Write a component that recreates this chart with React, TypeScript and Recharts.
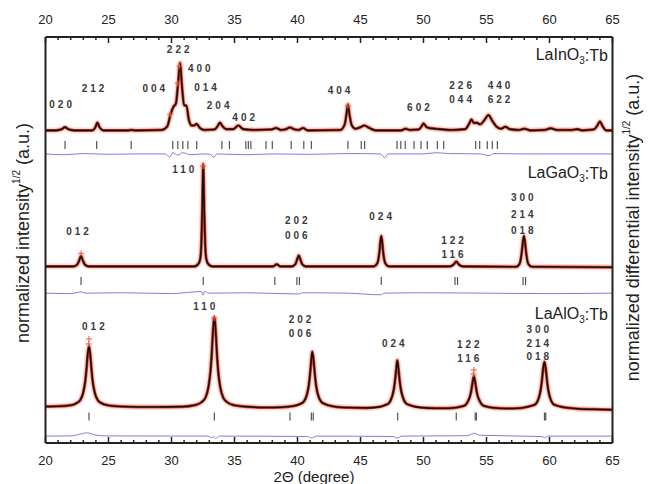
import React from 'react';
import { ComposedChart, Line, Scatter, XAxis, YAxis, Label } from 'recharts';

type P = [number, number];

const majorTicks = [20, 25, 30, 35, 40, 45, 50, 55, 60, 65];
const axisTicks = Array.from({ length: 46 }, (_, i) => 20 + i);

// LaInO3:Tb (top pattern)
const inProfile: P[] = [
  [20, 77.0], [20.8, 77.0], [21.3, 77.3], [21.55, 77.8], [21.8, 77.3], [22.3, 77.0],
  [23.7, 77.0], [23.95, 77.7], [24.12, 78.9], [24.3, 77.7], [24.6, 77.0],
  [26.5, 77.0], [26.8, 77.1], [27.2, 77.0],
  [29.2, 77.1], [29.65, 77.9], [29.95, 81.2], [30.15, 82.8], [30.35, 83.6], [30.52, 88.5], [30.68, 93.6],
  [30.84, 87.5], [31.0, 83.2], [31.18, 83.1], [31.38, 79.6], [31.6, 78.2], [31.8, 78.2], [32.0, 78.6],
  [32.25, 77.6], [32.6, 77.1],
  [33.4, 77.2], [33.65, 78.0], [33.85, 78.9], [34.05, 78.0], [34.35, 77.3],
  [34.9, 77.3], [35.3, 78.2], [35.7, 77.3],
  [36.5, 77.1], [37.9, 77.2], [38.3, 77.6], [38.7, 77.1], [39.0, 77.2], [39.4, 77.7], [39.8, 77.2],
  [40.1, 77.1], [40.45, 77.6], [40.8, 77.0],
  [43.4, 77.1], [43.75, 78.5], [43.9, 81.3], [44.0, 83.4], [44.12, 81.0], [44.3, 78.3], [44.6, 77.4],
  [45.0, 77.8], [45.3, 78.2], [45.7, 77.6], [46.2, 77.0],
  [48.2, 77.0], [48.6, 77.4], [48.9, 77.1], [49.6, 77.2], [49.85, 78.0], [50.0, 78.7], [50.25, 77.8],
  [50.6, 77.5], [51.3, 77.3], [52.3, 77.1],
  [53.3, 77.3], [53.65, 78.8], [53.8, 79.7], [54.0, 78.8], [54.2, 78.9], [54.5, 78.5], [54.85, 79.6],
  [55.15, 80.8], [55.45, 79.4], [55.8, 77.9], [56.15, 77.4], [56.5, 77.9], [56.85, 77.3],
  [57.6, 77.1], [58.0, 77.4], [58.5, 77.0], [59.6, 77.1], [60.1, 77.5], [60.6, 77.1],
  [61.8, 77.1], [62.2, 77.3], [62.6, 77.0],
  [63.5, 77.2], [63.8, 78.2], [64.0, 79.2], [64.2, 78.1], [64.5, 77.0], [65, 77.0],
];
const inObs: P[] = [[30.64, 92.8], [30.5, 88.6], [29.9, 81.0], [44.0, 83.0]];
const inDiff: P[] = [
  [20, 71.2], [21.5, 71.0], [23, 71.3], [25, 71.1], [27, 71.2], [29.5, 71.2], [29.85, 70.4], [30.1, 71.5],
  [30.5, 70.9], [30.9, 71.5], [31.5, 71.0], [32.5, 71.2], [33.1, 71.1], [33.35, 70.3], [33.6, 71.2],
  [36, 71.0], [38, 71.2], [41, 71.1], [44, 71.3], [46.6, 71.2], [46.9, 70.3], [47.2, 71.2], [50, 71.2],
  [51, 71.5], [52, 71.3], [54.5, 71.2], [55.2, 70.8], [55.6, 71.3], [58, 71.2], [61, 71.2], [65, 71.2],
];
const inBragg = [
  21.55, 24.06, 26.8, 30.1, 30.5, 30.9, 31.3, 32.0, 34.0, 34.6, 35.9, 36.1, 36.3, 37.5, 38.0, 39.5,
  40.5, 41.1, 44.0, 45.06, 45.33, 47.9, 48.2, 48.55, 49.25, 49.8, 50.3, 51.1, 51.6, 54.14, 54.46,
  55.06, 55.46, 55.86,
];
const inHkl = [
  { x: 21.2, y: 83.4, t: '020' }, { x: 23.77, y: 87.2, t: '212' }, { x: 28.59, y: 87.2, t: '004' },
  { x: 30.53, y: 96.8, t: '222' }, { x: 32.2, y: 92.3, t: '400' }, { x: 32.7, y: 87.6, t: '014' },
  { x: 33.7, y: 83.2, t: '204' }, { x: 35.73, y: 80.1, t: '402' }, { x: 43.3, y: 86.7, t: '404' },
  { x: 49.6, y: 82.7, t: '602' }, { x: 52.95, y: 88.0, t: '226' }, { x: 52.95, y: 84.6, t: '044' },
  { x: 56.0, y: 88.0, t: '440' }, { x: 56.0, y: 84.6, t: '622' },
];

// LaGaO3:Tb (middle pattern)
const gaProfile: P[] = [
  [20, 43.5], [22.2, 43.5], [22.5, 43.9], [22.68, 45.0], [22.82, 46.1], [22.96, 45.0], [23.14, 43.9], [23.45, 43.5],
  [31.8, 43.5], [32.1, 44.0], [32.27, 45.2], [32.37, 49.0], [32.44, 57.0], [32.48, 64.0], [32.52, 68.7],
  [32.56, 64.0], [32.6, 57.0], [32.67, 49.0], [32.77, 45.2], [32.94, 44.0], [33.25, 43.5],
  [38.05, 43.5], [38.35, 44.0], [38.65, 43.5],
  [39.55, 43.5], [39.82, 44.0], [39.98, 45.3], [40.1, 46.2], [40.22, 45.3], [40.38, 44.0], [40.65, 43.5],
  [46.05, 43.5], [46.32, 44.2], [46.5, 47.0], [46.58, 49.6], [46.65, 51.0], [46.72, 49.6], [46.8, 47.0],
  [46.98, 44.2], [47.25, 43.5],
  [52.1, 43.5], [52.4, 44.0], [52.6, 44.7], [52.8, 44.0], [53.1, 43.5],
  [57.35, 43.4], [57.62, 44.1], [57.8, 47.0], [57.89, 49.6], [57.97, 51.0], [58.05, 49.6], [58.14, 47.0],
  [58.32, 44.1], [58.6, 43.4], [65, 43.3],
];
const gaObs: P[] = [[22.82, 46.7], [32.52, 68.2]];
const gaDiff: P[] = [
  [20, 36.9], [22, 36.8], [22.82, 37.2], [23.2, 36.9], [26, 37.0], [30, 36.8], [32.35, 37.3], [32.5, 36.4],
  [32.65, 37.4], [32.9, 36.9], [36, 37.0], [40.1, 36.7], [40.4, 37.0], [44, 36.9], [46.6, 36.5], [46.9, 36.9],
  [50, 37.0], [55, 36.9], [60, 36.8], [65, 36.9],
];
const gaBragg = [22.82, 32.52, 38.2, 39.95, 40.15, 46.65, 52.5, 52.7, 57.9, 58.1];
const gaHkl = [
  { x: 30.94, y: 67.4, t: '110' }, { x: 22.54, y: 52.2, t: '012' },
  { x: 39.9, y: 54.7, t: '202' }, { x: 39.9, y: 51.2, t: '006' },
  { x: 46.6, y: 55.7, t: '024' },
  { x: 52.3, y: 49.8, t: '122' }, { x: 52.3, y: 46.4, t: '116' },
  { x: 57.84, y: 60.5, t: '300' }, { x: 57.84, y: 56.3, t: '214' }, { x: 57.84, y: 52.3, t: '018' },
];

// LaAlO3:Tb (bottom pattern)
const alProfile: P[] = [
  [20, 9.0], [21.0, 9.05], [22.0, 9.3], [22.45, 9.8], [22.75, 10.55], [23.0, 12.5], [23.15, 15.1], [23.25, 18.1],
  [23.35, 21.8], [23.45, 23.9], [23.55, 21.8], [23.65, 18.1], [23.75, 15.1], [23.9, 12.5], [24.15, 10.55],
  [24.45, 9.8], [24.95, 9.3], [26.0, 9.0], [28.5, 8.85],
  [30.9, 8.95], [31.9, 9.35], [32.4, 10.1], [32.7, 11.2], [32.95, 14.1], [33.1, 17.9], [33.2, 22.3], [33.3, 27.9],
  [33.4, 31.0], [33.5, 27.9], [33.6, 22.3], [33.7, 17.9], [33.85, 14.1], [34.1, 11.2], [34.4, 10.1],
  [34.9, 9.35], [35.9, 8.95], [37.5, 8.75],
  [38.7, 8.8], [39.7, 9.1], [40.2, 9.6], [40.5, 10.2], [40.75, 11.95], [40.9, 14.3], [41.0, 17.1], [41.1, 20.6],
  [41.17, 22.5], [41.27, 20.6], [41.37, 17.1], [41.47, 14.3], [41.62, 11.95], [41.87, 10.2], [42.17, 9.6],
  [42.67, 9.1], [43.7, 8.75],
  [45.5, 8.65], [46.5, 8.9], [46.95, 9.35], [47.25, 9.8], [47.5, 11.4], [47.65, 13.3], [47.75, 15.6],
  [47.85, 18.6], [47.92, 20.4], [48.0, 18.6], [48.1, 15.6], [48.2, 13.3], [48.35, 11.4], [48.6, 9.8],
  [48.9, 9.35], [49.4, 8.9], [50.4, 8.6],
  [51.5, 8.55], [52.5, 8.7], [53.0, 9.0], [53.3, 9.3], [53.55, 10.4], [53.7, 11.6], [53.8, 13.0], [53.9, 15.0],
  [54.0, 16.5], [54.1, 15.0], [54.2, 13.0], [54.3, 11.6], [54.45, 10.4], [54.7, 9.3], [55.0, 9.0], [55.5, 8.7],
  [56.5, 8.5],
  [57.5, 8.55], [58.1, 8.8], [58.6, 9.2], [58.9, 9.6], [59.15, 11.1], [59.3, 13.1], [59.4, 15.4], [59.5, 18.4],
  [59.6, 20.0], [59.7, 18.4], [59.8, 15.4], [59.9, 13.1], [60.05, 11.1], [60.3, 9.6], [60.6, 9.2], [61.1, 8.8],
  [62.0, 8.5], [63.5, 8.3], [65, 8.2],
];
const alObs: P[] = [[23.45, 25.6], [23.42, 24.4], [33.4, 30.8], [54.0, 18.0], [53.96, 17.0]];
const alDiff: P[] = [
  [20, 1.7], [22.0, 1.75], [22.8, 2.2], [23.2, 2.5], [23.5, 2.4], [23.9, 2.0], [24.8, 1.75], [32.9, 1.7],
  [33.2, 1.3], [33.35, 1.6], [33.5, 1.1], [33.8, 1.7], [40.8, 1.6], [41.1, 1.2], [41.5, 1.7], [47.6, 1.6],
  [47.9, 1.2], [48.3, 1.7], [53.5, 1.8], [54.0, 2.4], [54.5, 1.9], [59.4, 1.6], [59.6, 1.3], [59.9, 1.7], [65, 1.7],
];
const alBragg = [23.45, 33.4, 39.4, 41.1, 41.25, 47.95, 52.6, 54.1, 54.2, 59.6, 59.7];
const alHkl = [
  { x: 23.8, y: 28.6, t: '012' }, { x: 32.6, y: 33.6, t: '110' },
  { x: 40.2, y: 30.3, t: '202' }, { x: 40.2, y: 27.0, t: '006' },
  { x: 47.6, y: 24.6, t: '024' },
  { x: 53.55, y: 24.3, t: '122' }, { x: 53.55, y: 20.9, t: '116' },
  { x: 59.07, y: 28.0, t: '300' }, { x: 59.07, y: 24.6, t: '214' }, { x: 59.07, y: 21.3, t: '018' },
];

const braggLevel = { in: 73.4, ga: 39.9, al: 6.5 };
const phaseNames = [
  { x: 64.64, y: 95.6, name: 'LaInO' },
  { x: 64.64, y: 66.6, name: 'LaGaO' },
  { x: 64.64, y: 31.8, name: 'LaAlO' },
];

const FONT = '"Liberation Sans", Arial, sans-serif';
const toXY = (a: P[]) => a.map(([x, y]) => ({ x, y }));
const ticksAt = (xs: number[], y: number) => xs.map((x) => ({ x, y }));

const AxisTick = (p: any) => {
  const v = p.payload.value;
  const major = majorTicks.includes(v);
  const dir = p.side === 'top' ? 1 : -1;
  const len = major ? 6 : 3;
  return (
    <g>
      <line x1={p.x} x2={p.x} y1={p.y} y2={p.y + dir * len} stroke="#222" strokeWidth={1.5} />
      {major && (
        <text x={p.x} y={p.side === 'top' ? p.y - 18 : p.y + 17} textAnchor="middle" dominantBaseline="central"
          fontSize={13} fill="#222" fontFamily={FONT}>{v}</text>
      )}
    </g>
  );
};

const BraggMark = (p: any) => (
  <line x1={p.cx} x2={p.cx} y1={p.cy - 4} y2={p.cy + 4} stroke="#555" strokeWidth={1.2} />
);

const ObsCross = (p: any) => (
  <g stroke="#f0573c" strokeWidth={1.2} opacity={0.85}>
    <line x1={p.cx - 3} x2={p.cx + 3} y1={p.cy} y2={p.cy} />
    <line x1={p.cx} x2={p.cx} y1={p.cy - 3} y2={p.cy + 3} />
  </g>
);

const HklText = (p: any) => (
  <text x={p.cx + 1.5} y={p.cy} textAnchor="middle" dominantBaseline="central" fontSize={10} fontWeight="bold"
    letterSpacing={3} fill="#3a3a3a" fontFamily={FONT}>{p.payload.t}</text>
);

const PhaseText = (p: any) => (
  <text x={p.cx} y={p.cy} textAnchor="end" dominantBaseline="central" fontSize={16} fill="#222" fontFamily={FONT}>
    {p.payload.name}<tspan dy={5} fontSize={10}>3</tspan><tspan dy={-5}>:Tb</tspan>
  </text>
);

const YTitle = (p: any, text: string, dx: number, dy: number) => {
  const vb = p.viewBox || { x: 0, y: 37, width: 45.5, height: 406 };
  const cx = vb.x + vb.width / 2 + dx;
  const cy = vb.y + vb.height / 2 + dy;
  return (
    <text x={cx} y={cy} transform={`rotate(-90 ${cx} ${cy})`} textAnchor="middle" dominantBaseline="central"
      fontSize={18} fill="#222" fontFamily={FONT}>
      {text}<tspan dy={-7} fontSize={10}>1/2</tspan><tspan dy={7}> (a.u.)</tspan>
    </text>
  );
};

const XTitle = (p: any) => {
  const vb = p.viewBox || { x: 45.5, y: 443, width: 567, height: 41 };
  return (
    <text x={vb.x + vb.width / 2 - 15} y={vb.y + 33} textAnchor="middle" dominantBaseline="central"
      fontSize={15} fill="#222" fontFamily={FONT}>2Θ (degree)</text>
  );
};

const Pattern = (xId: string, profile: P[], obs: P[], diff: P[], bragg: number[], level: number, hkl: any[]) => [
  <Line key="halo" data={toXY(profile)} xAxisId={xId} yAxisId="left" dataKey="y" type="monotone" dot={false}
    stroke="#f08a78" strokeOpacity={0.3} strokeWidth={6} isAnimationActive={false} />,
  <Line key="obs" data={toXY(profile)} xAxisId={xId} yAxisId="left" dataKey="y" type="monotone" dot={false}
    stroke="#e3442c" strokeWidth={3} isAnimationActive={false} />,
  <Line key="calc" data={toXY(profile)} xAxisId={xId} yAxisId="left" dataKey="y" type="monotone" dot={false}
    stroke="#111" strokeWidth={1.6} isAnimationActive={false} />,
  <Line key="diff" data={toXY(diff)} xAxisId={xId} yAxisId="right" dataKey="y" type="monotone" dot={false}
    stroke="#7d80d8" strokeWidth={1} isAnimationActive={false} />,
  <Scatter key="cross" data={toXY(obs)} xAxisId={xId} yAxisId="left" dataKey="y" shape={ObsCross}
    isAnimationActive={false} />,
  <Scatter key="bragg" data={ticksAt(bragg, level)} xAxisId={xId} yAxisId="left" dataKey="y" shape={BraggMark}
    isAnimationActive={false} />,
  <Scatter key="hkl" data={hkl} xAxisId={xId} yAxisId="left" dataKey="y" shape={HklText}
    isAnimationActive={false} />,
];

export default function App() {
  return (
    <div style={{ position: 'absolute', left: 0, top: 0, width: 648, height: 484, background: '#fff', fontFamily: FONT }}>
      <ComposedChart width={648} height={484} margin={{ top: 7, right: 0, bottom: 0, left: 0 }}>
        <XAxis xAxisId="top" orientation="top" dataKey="x" type="number" domain={[20, 65]} allowDataOverflow
          ticks={axisTicks} interval={0} tickLine={false} tickSize={0} tickMargin={0} height={30}
          tick={(p: any) => <AxisTick {...p} side="top" />} axisLine={{ stroke: '#222', strokeWidth: 2 }} />
        <XAxis xAxisId="bottom" orientation="bottom" dataKey="x" type="number" domain={[20, 65]} allowDataOverflow
          ticks={axisTicks} interval={0} tickLine={false} tickSize={0} tickMargin={0} height={41}
          tick={(p: any) => <AxisTick {...p} side="bottom" />} axisLine={{ stroke: '#222', strokeWidth: 2 }}>
          <Label content={XTitle} />
        </XAxis>
        <YAxis yAxisId="left" dataKey="y" type="number" domain={[0, 100]} allowDataOverflow tick={false} tickLine={false}
          width={45.5} axisLine={{ stroke: '#222', strokeWidth: 2 }}>
          <Label content={(p: any) => YTitle(p, 'normalized intensity', 0, -7)} />
        </YAxis>
        <YAxis yAxisId="right" orientation="right" dataKey="y" type="number" domain={[0, 100]} allowDataOverflow
          tick={false} tickLine={false} width={35.5} axisLine={{ stroke: '#222', strokeWidth: 2 }}>
          <Label content={(p: any) => YTitle(p, 'normalized differential intensity', 3, -12.5)} />
        </YAxis>
        {Pattern('top', inProfile, inObs, inDiff, inBragg, braggLevel.in, inHkl)}
        {Pattern('bottom', gaProfile, gaObs, gaDiff, gaBragg, braggLevel.ga, gaHkl)}
        {Pattern('bottom', alProfile, alObs, alDiff, alBragg, braggLevel.al, alHkl)}
        <Scatter data={phaseNames} xAxisId="bottom" yAxisId="left" dataKey="y" shape={PhaseText} isAnimationActive={false} />
      </ComposedChart>
    </div>
  );
}
